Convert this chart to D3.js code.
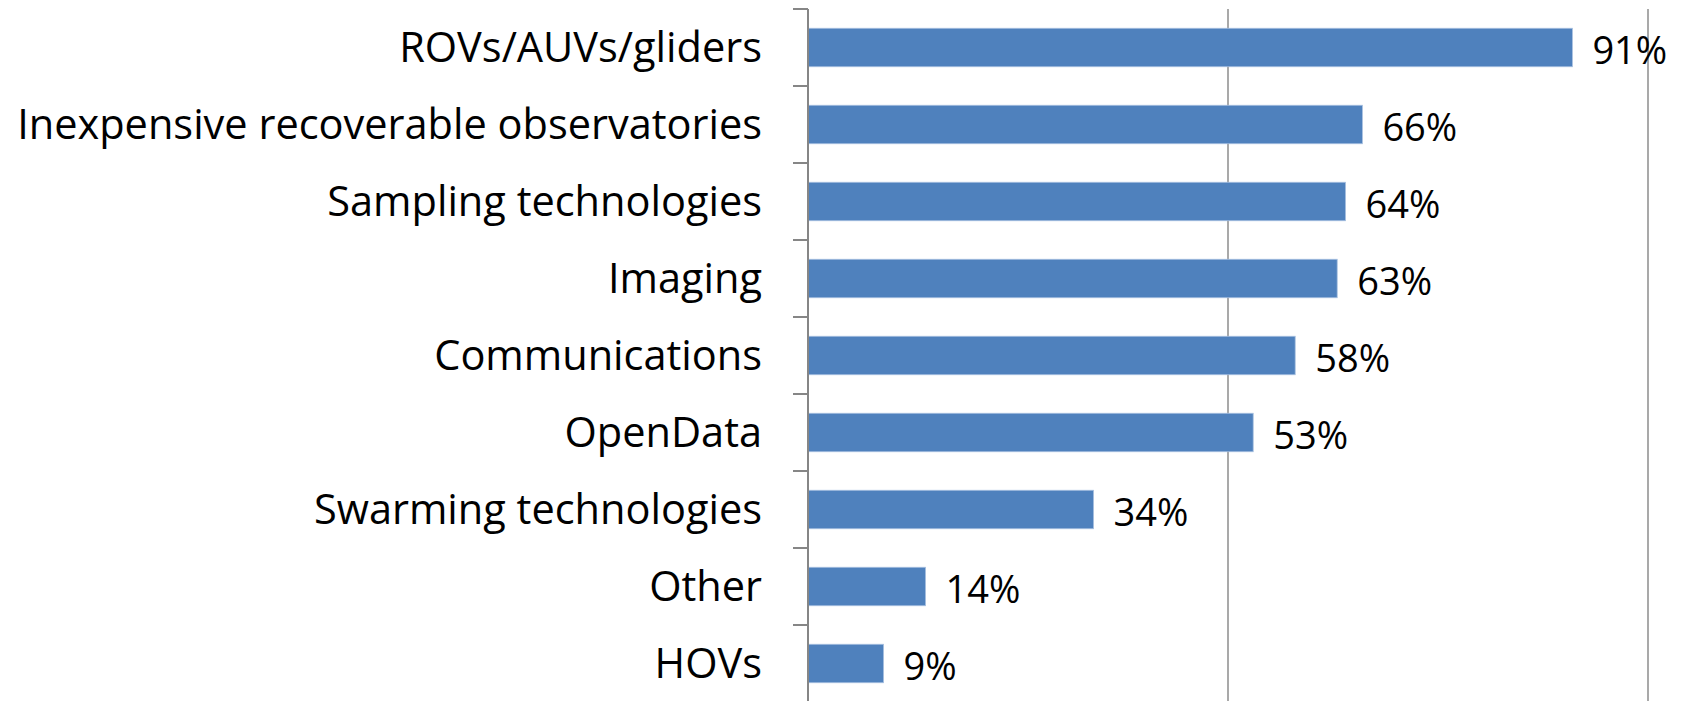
<!DOCTYPE html>
<html>
<head>
<meta charset="utf-8">
<script src="https://cdn.jsdelivr.net/npm/d3@7"></script>
<style>
  body { margin: 0; background: #fff; }
  svg { display: block; }
  text { font-family: "Open Sans", sans-serif; fill: #000; }
</style>
</head>
<body>
<svg width="1682" height="701"></svg>
<script>
const categories = [
  "ROVs/AUVs/gliders",
  "Inexpensive recoverable observatories",
  "Sampling technologies",
  "Imaging",
  "Communications",
  "OpenData",
  "Swarming technologies",
  "Other",
  "HOVs"
];
const values = [0.91, 0.66, 0.64, 0.63, 0.58, 0.53, 0.34, 0.14, 0.09];
const gridValues = [0.5, 1];

const svg = d3.select("svg");

const x = d3.scaleLinear().domain([0, 1]).range([808, 1648]);
const y = d3.scaleBand()
  .domain(categories)
  .range([9, 702])
  .paddingInner(0.5)
  .paddingOuter(0.25);

// gridlines
svg.append("g")
  .selectAll("line")
  .data(gridValues)
  .join("line")
  .attr("x1", d => x(d))
  .attr("x2", d => x(d))
  .attr("y1", 9)
  .attr("y2", 701)
  .attr("stroke", "#8c8c8c")
  .attr("stroke-width", 1.5);

// bars
svg.append("g")
  .selectAll("rect")
  .data(categories)
  .join("rect")
  .attr("x", x(0))
  .attr("y", d => y(d))
  .attr("width", (d, i) => x(values[i]) - x(0))
  .attr("height", y.bandwidth())
  .attr("fill", "#4f81bd")
  .attr("stroke", "#a9c1e0")
  .attr("stroke-width", 0.8);

// category axis, ticks sit between the bands
const step = y.step();
const boundaries = categories.map(c => y(c) - step * 0.25);
boundaries.push(y(categories[categories.length - 1]) + y.bandwidth() + step * 0.25);

const axis = svg.append("g");
axis.append("line")
  .attr("x1", x(0))
  .attr("x2", x(0))
  .attr("y1", 9)
  .attr("y2", 701)
  .attr("stroke", "#868686")
  .attr("stroke-width", 2);
axis.selectAll("line.tick")
  .data(boundaries)
  .join("line")
  .attr("class", "tick")
  .attr("x1", x(0) - 15)
  .attr("x2", x(0))
  .attr("y1", d => d)
  .attr("y2", d => d)
  .attr("stroke", "#868686")
  .attr("stroke-width", 2);

// category labels
svg.append("g")
  .selectAll("text")
  .data(categories)
  .join("text")
  .attr("x", 762)
  .attr("y", d => y(d) + y.bandwidth() / 2)
  .attr("dy", "0.34em")
  .attr("text-anchor", "end")
  .attr("font-size", "41.5px")
  .text(d => d);

// value labels
svg.append("g")
  .selectAll("text")
  .data(categories)
  .join("text")
  .attr("x", (d, i) => x(values[i]) + 20)
  .attr("y", d => y(d) + y.bandwidth() / 2 + 3)
  .attr("dy", "0.35em")
  .attr("font-size", "38px")
  .text((d, i) => Math.round(values[i] * 100) + "%");
</script>
</body>
</html>
